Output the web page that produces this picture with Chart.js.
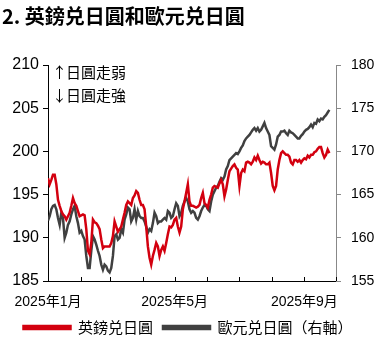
<!DOCTYPE html>
<html>
<head>
<meta charset="utf-8">
<script src="https://cdn.jsdelivr.net/npm/chart.js@4.4.1/dist/chart.umd.min.js"></script>
<style>
  html, body { margin: 0; padding: 0; background: #fff; }
  #wrap { width: 376px; height: 343px; }
</style>
</head>
<body>
<div id="wrap"><canvas id="fxChart" width="376" height="343"></canvas></div>
<script>
const FONT = "'Liberation Sans', Arial, 'Noto Sans CJK TC', sans-serif";
const CJK = "'Noto Sans CJK TC', 'Liberation Sans', sans-serif";

const chartTitle = '2. 英鎊兑日圓和歐元兑日圓';
const seriesNames = ['英鎊兑日圓', '歐元兑日圓（右軸）'];
const noteArrows = ['↑', '↓'];
const noteTexts = ['日圓走弱', '日圓走強'];

// x axis: day of year 2025, month starts as tick positions
const monthStarts = [0, 31, 59, 90, 120, 151, 181, 212, 243, 273];
const monthLabels = { 0: '2025年1月', 120: '2025年5月', 243: '2025年9月' };
const sampleStepDays = 273 / 173;

// GBP/JPY (left axis)
const gbpjpy = [
  196.9, 196.2, 196.7, 197.3, 197.3, 196.2, 194.4, 193.7, 193.1, 192.7,
  192.5, 192.1, 192.5, 192.9, 193.7, 194.6, 194.0, 193.7, 193.1, 192.5,
  192.6, 192.7, 192.6, 191.0, 188.5, 188.1, 189.4, 192.1, 191.8, 191.7,
  191.4, 191.0, 189.8, 188.8, 189.0, 189.0, 189.0, 189.0, 189.4, 190.2,
  191.9, 191.3, 190.7, 191.0, 191.3, 192.1, 192.9, 193.8, 194.2, 194.0,
  193.8, 194.6, 194.9, 195.4, 195.2, 194.4, 193.8, 193.8, 193.3, 191.3,
  189.0, 187.7, 186.9, 187.9, 188.6, 189.4, 189.0, 187.9, 188.6, 189.0,
  188.5, 189.4, 190.4, 191.3, 191.2, 191.5, 192.1, 192.3, 191.3, 190.6,
  191.3, 193.3, 194.2, 195.2, 196.2, 194.2, 193.7, 193.7, 193.6, 193.5,
  193.6, 193.8, 194.6, 195.2, 194.0, 193.8, 193.5, 194.4, 195.0, 195.8,
  196.0, 195.9, 195.8, 196.3, 196.7, 196.2, 194.8, 195.6, 196.7, 197.7,
  198.0, 198.3, 198.5, 198.1, 197.9, 196.0, 197.5, 197.9, 197.7, 198.7,
  198.8, 198.7, 198.5, 198.8, 199.3, 199.0, 199.5, 199.0, 198.6, 198.8,
  198.7, 198.5, 198.5, 198.7, 197.5, 196.0, 195.5, 196.0, 197.9, 199.0,
  199.8, 200.0, 199.8, 199.6, 199.6, 199.4, 198.7, 198.5, 199.0, 199.0,
  198.8, 199.0, 198.7, 199.0, 199.2, 199.1, 199.5, 199.3, 199.6, 199.6,
  199.9, 200.0, 200.3, 200.5, 200.5, 199.8, 199.3, 199.6, 200.2, 199.8
];

// EUR/JPY (right axis)
const eurjpy = [
  162.0, 162.5, 163.3, 163.7, 163.8, 163.3, 162.3, 161.5, 162.9, 162.3,
  160.0, 160.6, 161.5, 161.9, 162.7, 163.3, 163.7, 162.5, 161.7, 160.6,
  160.8, 160.2, 159.8, 157.9, 156.5, 156.5, 158.5, 160.2, 159.8, 159.2,
  158.5, 157.9, 156.9, 156.3, 156.9, 156.7, 156.2, 156.0, 156.5, 157.9,
  160.2, 160.4, 159.8, 160.0, 161.0, 160.6, 162.1, 162.7, 163.5, 163.3,
  161.9, 162.3, 163.3, 162.1, 163.1, 162.5, 162.3, 162.3, 161.9, 161.3,
  160.6, 161.0, 160.8, 161.7, 162.9, 162.5, 161.7, 161.9, 161.9, 162.1,
  162.3, 162.1, 163.1, 162.9, 162.3, 162.5, 163.3, 164.0, 163.7, 162.5,
  162.9, 163.7, 164.2, 164.6, 164.2, 163.3, 162.9, 163.1, 162.9, 162.3,
  162.1, 162.5, 163.1, 163.5, 163.8, 163.7, 163.3, 163.1, 164.2, 165.0,
  165.4, 165.8, 166.0, 166.5, 166.9, 166.7, 167.1, 167.9, 168.3, 169.0,
  169.2, 169.4, 169.6, 169.8, 169.7, 170.0, 170.4, 170.7, 171.2, 171.5,
  171.7, 171.9, 172.2, 172.5, 172.7, 172.4, 172.7, 172.3, 172.5, 172.9,
  173.3, 172.7, 172.3, 171.9, 170.6, 170.4, 170.2, 170.8, 171.7, 171.9,
  172.3, 172.3, 172.4, 172.1, 171.9, 172.4, 172.2, 172.1, 171.9, 171.7,
  171.5, 171.5, 171.8, 172.0, 172.3, 172.5, 172.6, 172.8, 173.1, 172.8,
  173.3, 173.2, 173.7, 173.5, 173.8, 173.7, 174.0, 174.2, 174.5, 174.8
];

const RED = '#d3000f';
const GREY = '#404040';

const toPoints = (arr) => arr.map((v, i) => ({ x: i * sampleStepDays, y: v }));

// title, yen notes and inward x ticks
const decorations = {
  id: 'decorations',
  afterDraw(chart) {
    const { ctx, chartArea } = chart;
    const xs = chart.scales.x;
    ctx.save();
    ctx.fillStyle = '#000';
    ctx.textBaseline = 'middle';
    ctx.font = 'bold 20px ' + CJK;
    ctx.fillText(chartTitle, 2, 16);

    ctx.font = '15px ' + CJK;
    noteTexts.forEach((t, i) => {
      const y = 72 + i * 23;
      ctx.fillText(noteArrows[i], chartArea.left + 4, y);
      ctx.fillText(t, chartArea.left + 18, y);
    });

    ctx.strokeStyle = '#000';
    ctx.lineWidth = 1;
    monthStarts.forEach(d => {
      const px = Math.round(xs.getPixelForValue(d)) + 0.5;
      ctx.beginPath();
      ctx.moveTo(px, chartArea.bottom);
      ctx.lineTo(px, chartArea.bottom - 4);
      ctx.stroke();
    });
    ctx.restore();
  }
};

new Chart(document.getElementById('fxChart'), {
  type: 'line',
  data: {
    datasets: [
      {
        label: seriesNames[0],
        data: toPoints(gbpjpy),
        yAxisID: 'yL',
        borderColor: RED,
        backgroundColor: RED,
        borderWidth: 2.5,
        pointRadius: 0,
        tension: 0
      },
      {
        label: seriesNames[1],
        data: toPoints(eurjpy),
        yAxisID: 'yR',
        borderColor: GREY,
        backgroundColor: GREY,
        borderWidth: 2.5,
        pointRadius: 0,
        tension: 0
      }
    ]
  },
  options: {
    responsive: false,
    animation: false,
    devicePixelRatio: 1,
    layout: { padding: { top: 65, left: 0, right: 0, bottom: 0 } },
    plugins: {
      tooltip: { enabled: false },
      legend: {
        position: 'bottom',
        maxHeight: 33,
        labels: {
          boxWidth: 47,
          boxHeight: 3,
          padding: 10,
          color: '#000',
          font: { size: 15, family: CJK }
        }
      }
    },
    scales: {
      x: {
        type: 'linear',
        min: 0,
        max: 273,
        afterBuildTicks: (s) => { s.ticks = monthStarts.map(v => ({ value: v })); },
        afterFit: (s) => { s.height = 29; },
        grid: { display: false, drawTicks: false },
        border: { color: '#000', width: 1 },
        ticks: {
          autoSkip: false,
          maxRotation: 0,
          padding: 13,
          color: '#000',
          font: { size: 14, family: FONT },
          callback: (v) => monthLabels[v] || ''
        }
      },
      yL: {
        position: 'left',
        min: 185,
        max: 210,
        afterFit: (s) => { s.width = 48; },
        grid: { drawOnChartArea: false, tickLength: 5, color: '#000' },
        border: { color: '#000', width: 1 },
        ticks: { stepSize: 5, padding: 4, color: '#000', font: { size: 16, family: FONT } }
      },
      yR: {
        position: 'right',
        min: 155,
        max: 180,
        afterFit: (s) => { s.width = 40; },
        grid: { drawOnChartArea: false, tickLength: 5, color: '#888' },
        border: { color: '#888', width: 1 },
        ticks: { stepSize: 5, padding: 10, color: '#000', font: { size: 14, family: FONT } }
      }
    }
  },
  plugins: [decorations]
});
</script>
</body>
</html>
